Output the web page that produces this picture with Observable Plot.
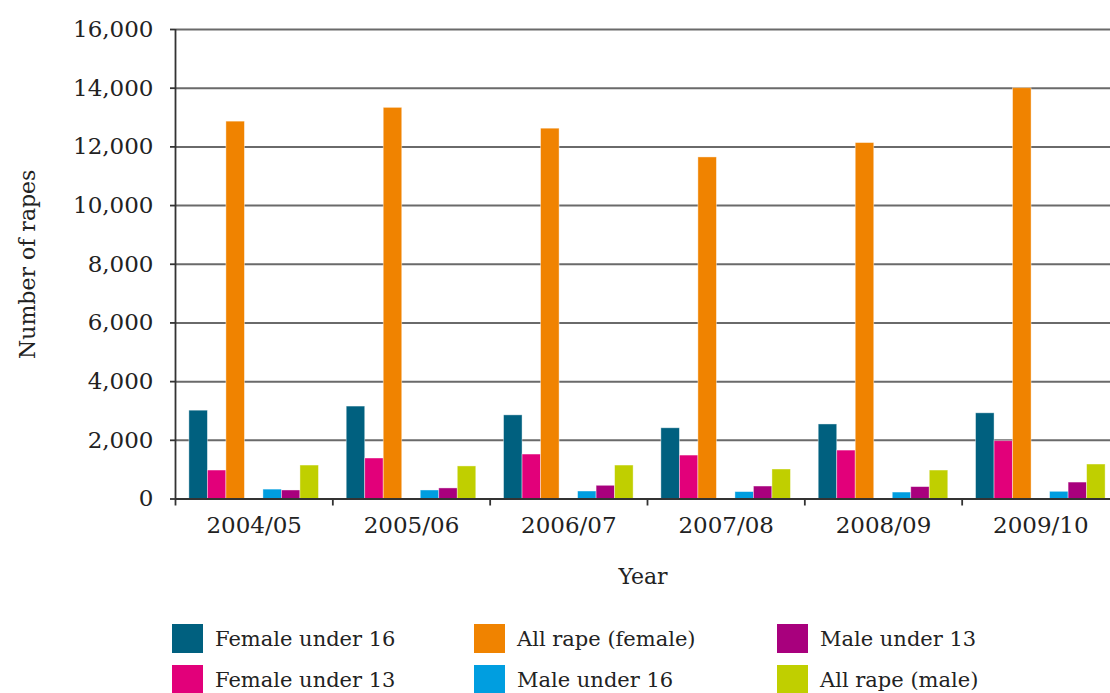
<!DOCTYPE html>
<html>
<head>
<meta charset="utf-8">
<script src="https://cdn.jsdelivr.net/npm/d3@7"></script>
<script src="https://cdn.jsdelivr.net/npm/@observablehq/plot@0.6"></script>
<style>
  html, body { margin: 0; padding: 0; background: #fff; }
  #wrap { position: relative; width: 1110px; height: 693px; overflow: hidden; font-family: "DejaVu Serif", serif; color: #222; }
  .leg { position: absolute; display: flex; align-items: center; font-size: 21px; white-space: nowrap; }
  .sw { width: 31px; height: 29px; margin-right: 12px; flex: none; }
</style>
</head>
<body>
<div id="wrap"></div>
<script>
const years = ["2004/05", "2005/06", "2006/07", "2007/08", "2008/09", "2009/10"];
const seriesNames = ["Female under 16", "Female under 13", "All rape (female)", "Male under 16", "Male under 13", "All rape (male)"];
const femaleUnder16 = [3010, 3150, 2850, 2410, 2540, 2920];
const femaleUnder13 = [970, 1380, 1515, 1480, 1650, 1970];
const allRapeFemale = [12860, 13330, 12620, 11640, 12130, 14000];
const maleUnder16 = [320, 290, 255, 235, 220, 245];
const maleUnder13 = [290, 360, 450, 425, 405, 560];
const allRapeMale = [1140, 1110, 1140, 1005, 970, 1175];
const yTicks = [0, 2000, 4000, 6000, 8000, 10000, 12000, 14000, 16000];
const colors = ["#00607f", "#e2007a", "#f08300", "#009ee0", "#a8007d", "#c0cf00"];

const seriesValues = [femaleUnder16, femaleUnder13, allRapeFemale, maleUnder16, maleUnder13, allRapeMale];
// slot positions within each year group (slot 3 left empty, as in the original)
const slotOf = [0, 1, 2, 4, 5, 6];
const slotW = 1 / 8.5, pad = 0.75 / 8.5;

const rows = [];
years.forEach((yr, i) => {
  seriesNames.forEach((s, k) => {
    rows.push({i, year: yr, series: s, slot: slotOf[k], value: seriesValues[k][i]});
  });
});

const gridColor = "#6a6a6a";
const axisColor = "#333";

const chart = Plot.plot({
  width: 1110,
  height: 605,
  marginTop: 29,
  marginBottom: 106.5,
  marginLeft: 175,
  marginRight: 0,
  style: {fontFamily: "DejaVu Serif, serif", fontSize: "22px", color: "#222", background: "white"},
  x: {domain: [0, 6], range: [175, 1119], axis: null},
  y: {domain: [0, 16000], axis: null},
  color: {domain: seriesNames, range: colors},
  marks: [
    Plot.ruleY(yTicks.filter(d => d > 0), {x1: 0, x2: 6, stroke: gridColor, strokeWidth: 2}),
    Plot.rectY(rows, {
      x1: d => d.i + pad + d.slot * slotW,
      x2: d => d.i + pad + (d.slot + 1) * slotW,
      y: "value",
      fill: "series",
      stroke: "white",
      strokeOpacity: 0.5,
      strokeWidth: 0.8
    }),
    Plot.ruleY([0], {x1: 0, x2: 6, stroke: axisColor, strokeWidth: 2}),
    Plot.ruleX([0], {y1: 0, y2: 16000, stroke: axisColor, strokeWidth: 1.8}),
    Plot.axisY({ticks: yTicks, tickFormat: d3.format(","), tickSize: 5, tickPadding: 17, stroke: axisColor, strokeWidth: 1.8, fontSize: 23, label: null}),
    Plot.axisX({ticks: [0, 1, 2, 3, 4, 5, 6], tickFormat: () => "", tickSize: 7, stroke: axisColor, strokeWidth: 1.8, label: null}),
    Plot.text(years, {x: (d, i) => i + 0.5, frameAnchor: "bottom", lineAnchor: "middle", dy: 27, text: d => d, fontSize: 23}),
    Plot.text(["Year"], {frameAnchor: "bottom", lineAnchor: "middle", textAnchor: "middle", dy: 78, fontSize: 22}),
    Plot.text(["Number of rapes"], {frameAnchor: "left", textAnchor: "middle", lineAnchor: "middle", dx: -148, rotate: -90, fontSize: 22})
  ]
});

const wrap = document.getElementById("wrap");
wrap.appendChild(chart);

// legend: two rows, filled column by column
const colX = [172, 474, 777];
const rowY = [624, 665];
seriesNames.forEach((s, k) => {
  const col = Math.floor(k / 2), row = k % 2;
  const item = document.createElement("div");
  item.className = "leg";
  item.style.left = colX[col] + "px";
  item.style.top = rowY[row] + "px";
  const sw = document.createElement("div");
  sw.className = "sw";
  sw.style.background = colors[k];
  const label = document.createElement("span");
  label.textContent = s;
  item.appendChild(sw);
  item.appendChild(label);
  wrap.appendChild(item);
});
</script>
</body>
</html>
